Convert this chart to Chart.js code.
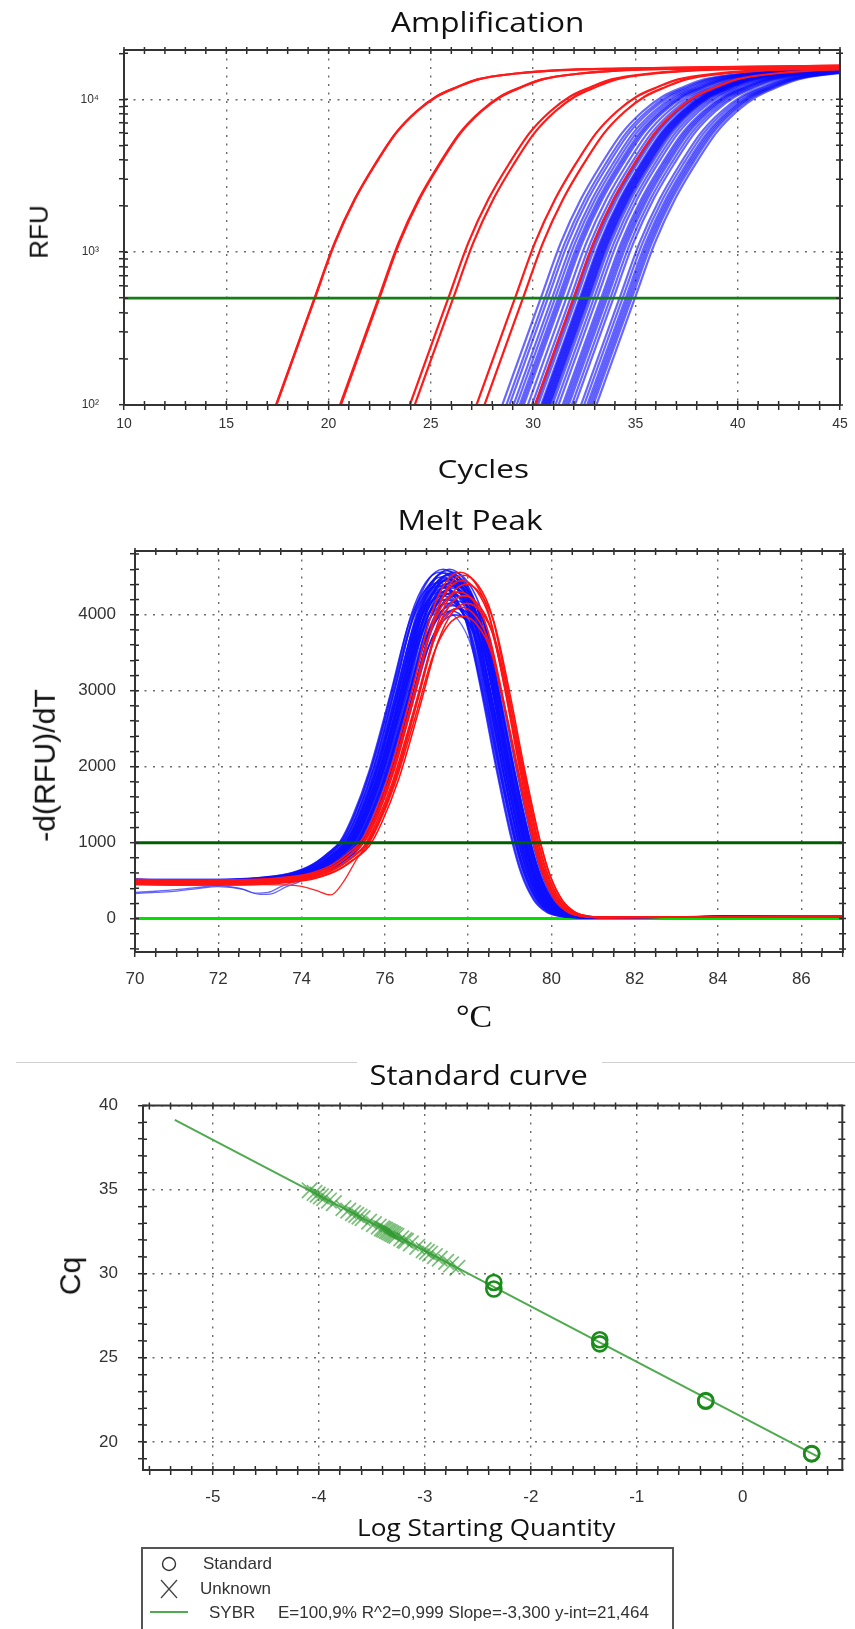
<!DOCTYPE html>
<html>
<head>
<meta charset="utf-8">
<script src="https://cdn.jsdelivr.net/npm/chart.js@4.4.1/dist/chart.umd.min.js"></script>
<style>
  html, body { margin:0; padding:0; background:#fff; }
  body { position:relative; width:855px; height:1629px; overflow:hidden; }
  canvas { position:absolute; left:0; }
  .lbl, .lt { position:absolute; white-space:nowrap; line-height:1; color:#111; }
  .lt { font-family:'Liberation Sans', Arial, sans-serif; font-size:17px; color:#333; }
  .sep { position:absolute; height:0; border-top:1px solid #cfcfcf; }
</style>
</head>
<body>
<canvas id="ampChart" width="855" height="450" style="top:0;width:855px;height:450px"></canvas>
<canvas id="meltChart" width="855" height="560" style="top:480px;width:855px;height:560px"></canvas>
<canvas id="stdChart" width="855" height="589" style="top:1040px;width:855px;height:589px"></canvas>

<div class="sep" style="left:16px;top:1062px;width:341px"></div>
<div class="sep" style="left:602px;top:1062px;width:253px"></div>

<div class="lbl" data-cx="487" data-cy="21" data-w="193" style="font-family:'Open Sans';font-size:28px">Amplification</div>
<div class="lbl" data-cx="483" data-cy="468" data-w="92" style="font-family:'Open Sans';font-size:25px">Cycles</div>
<div class="lbl" data-cx="38" data-cy="232" data-w="53" data-rot="1" style="font-family:'Liberation Sans';font-size:26px">RFU</div>

<div class="lbl" data-cx="470" data-cy="519" data-w="145" style="font-family:'Open Sans';font-size:28px">Melt Peak</div>
<div class="lbl" data-cx="45" data-cy="765" data-w="153" data-rot="1" style="font-family:'Liberation Sans';font-size:29px">-d(RFU)/dT</div>
<div class="lbl" data-cx="474" data-cy="1016" data-w="36" style="font-family:'Liberation Serif';font-size:32px">°C</div>

<div class="lbl" data-cx="478" data-cy="1074" data-w="218" style="font-family:'Open Sans';font-size:27px">Standard curve</div>
<div class="lbl" data-cx="70" data-cy="1276" data-w="38" data-rot="1" style="font-family:'Liberation Sans';font-size:30px">Cq</div>
<div class="lbl" data-cx="486" data-cy="1527" data-w="258" style="font-family:'Open Sans';font-size:24px">Log Starting Quantity</div>

<div style="position:absolute;left:141px;top:1547px;width:533px;height:110px;border:2px solid #555;box-sizing:border-box;"></div>
<svg style="position:absolute;left:0;top:1540px" width="855" height="89">
  <circle cx="169" cy="24" r="6.5" fill="none" stroke="#333" stroke-width="1.4"/>
  <line x1="161" y1="40" x2="177" y2="58" stroke="#444" stroke-width="1.3"/>
  <line x1="177" y1="40" x2="161" y2="58" stroke="#444" stroke-width="1.3"/>
  <line x1="150" y1="72" x2="188" y2="72" stroke="rgb(80,170,80)" stroke-width="2"/>
</svg>
<div class="lt" data-left="203" data-cy="1563">Standard</div>
<div class="lt" data-left="200" data-cy="1588">Unknown</div>
<div class="lt" data-left="209" data-cy="1612">SYBR</div>
<div class="lt" data-left="278" data-cy="1612">E=100,9% R^2=0,999 Slope=-3,300 y-int=21,464</div>

<script>
// ===================== DATA =====================
// --- Amplification ---
const ampThresholdRFU = 500;
const ampProfileCycleOffset = [-3, -2, -1, 0, 1, 2, 3, 4, 5, 6, 7, 8, 10, 12, 15, 20, 26];
const ampProfileRFU = [40, 89, 209, 490, 1150, 2240, 3800, 6030, 8320, 10470, 12020, 13490, 14790, 15490, 15850, 16220, 16600];
const standardCq = [19.29, 19.31, 22.42, 22.46, 25.83, 26.07, 29.09, 29.48];
const standardLogSQ = [0.651, 0.651, -0.349, -0.349, -1.349, -1.349, -2.349, -2.349];
const otherRedCq = [31.95];
const unknownCq = [34.95, 34.8, 34.7, 34.6, 34.5, 34.35, 34.2, 33.9, 33.75, 33.6, 33.5, 33.4, 33.3, 33.1,
  32.95, 32.8, 32.7, 32.65, 32.6, 32.55, 32.5, 32.45, 32.4, 32.35, 32.3, 32.25, 32.1, 32.0, 31.95,
  31.8, 31.6, 31.4, 31.3, 31.2, 31.05, 30.9, 30.7, 30.55, 30.35];
const unknownLogSQ = [-4.087, -4.041, -4.011, -3.981, -3.950, -3.905, -3.859, -3.768, -3.723, -3.678, -3.647, -3.617, -3.587, -3.526,
  -3.481, -3.435, -3.405, -3.390, -3.375, -3.359, -3.344, -3.329, -3.314, -3.299, -3.284, -3.268, -3.223, -3.193, -3.178,
  -3.132, -3.072, -3.011, -2.981, -2.950, -2.905, -2.859, -2.799, -2.753, -2.693];
const ampXTickLabels = [10, 15, 20, 25, 30, 35, 40, 45];
const ampYTickLabels = {100: '10²', 1000: '10³', 10000: '10⁴'};

// --- Melt peak ---
const meltThreshold = 1000;
const meltProfileOffset = [-8.2, -6.5, -5, -4, -3.5, -3, -2.6, -2.3, -2.0, -1.6, -1.1, -0.65, -0.3, 0.05, 0.4, 0.72, 1.1, 1.45, 1.82, 2.05, 2.35, 2.65, 2.95, 3.35, 5, 7, 10];
const meltProfileValue = [505, 495, 500, 540, 590, 700, 860, 1020, 1350, 1950, 2950, 3900, 4320, 4450, 4320, 3950, 3000, 2000, 1050, 600, 250, 90, 35, 15, 20, 25, 30];
const meltProfilePeak = 4450;
const meltBlueTm = [77.22, 77.25, 77.28, 77.3, 77.32, 77.34, 77.35, 77.37, 77.38, 77.4, 77.41, 77.42, 77.44, 77.45, 77.46, 77.47, 77.48, 77.49, 77.5, 77.51, 77.52, 77.53, 77.54, 77.55, 77.56, 77.57, 77.58, 77.6, 77.61, 77.62, 77.64, 77.65, 77.66, 77.68, 77.7, 77.72, 77.5];
const meltBluePeak = [4420, 4380, 4560, 4300, 4500, 4250, 4600, 4450, 4350, 4550, 4200, 4480, 4400, 4580, 4320, 4150, 4520, 4460, 4600, 4380, 4280, 4540, 4050, 4420, 4490, 4350, 4120, 4560, 4300, 4440, 4000, 4250, 4380, 4180, 4080, 4300, 4470];
const meltRedTm = [77.74, 77.76, 77.78, 77.8, 77.82, 77.84, 77.86, 77.9, 77.92];
const meltRedPeak = [4300, 4560, 4100, 4450, 3980, 4520, 4250, 4400, 4150];
const meltBlueDipA = [[70,345],[70.5,360],[71,380],[71.5,410],[72,435],[72.5,400],[72.9,335],[73.2,345],[73.5,420],[74,520],[74.5,660],[74.85,820],[75.15,963],[75.45,1274],[75.85,1840],[76.35,2785],[76.8,3680],[77.15,4088],[77.5,4200],[77.85,4088],[78.17,3729],[78.55,2832],[78.9,1888],[79.27,991],[79.5,566],[79.8,236],[80.1,85],[80.4,33],[80.8,14],[82,18],[84,22],[87,28]];
const meltBlueDipB = [[70,330],[70.5,345],[71,362],[71.5,395],[72,420],[72.6,385],[73.0,318],[73.3,330],[73.6,410],[74,500],[74.4,640],[74.75,780],[75.05,928],[75.35,1229],[75.75,1775],[76.25,2685],[76.7,3549],[77.05,3940],[77.4,4050],[77.75,3940],[78.07,3595],[78.45,2730],[78.8,1820],[79.17,956],[79.4,546],[79.7,228],[80.0,82],[80.3,32],[80.7,14],[82,18],[84,20],[87,26]];
const meltRedDip = [[70,455],[71,452],[72,450],[73,448],[73.6,445],[74,425],[74.35,370],[74.7,312],[75.0,480],[75.3,760],[75.55,974],[75.85,1289],[76.25,1862],[76.75,2817],[77.2,3725],[77.55,4125],[77.9,4250],[78.25,4125],[78.57,3772],[78.95,2865],[79.3,1910],[79.67,1003],[79.9,573],[80.2,239],[80.5,86],[80.8,33],[81.2,14],[82,18],[84,22],[87,28]];
const meltXTickLabels = [70, 72, 74, 76, 78, 80, 82, 84, 86];
const meltYTickLabels = [0, 1000, 2000, 3000, 4000];

// --- Standard curve ---
const fitLineLogSQ = [-5.36, 0.70];
const fitLineCq = [39.15, 19.15];
const stdXTickLabels = [-5, -4, -3, -2, -1, 0];
const stdYTickLabels = [20, 25, 30, 35, 40];

// ===================== HELPERS =====================
const TICK_FONT = "'Liberation Sans', Arial, sans-serif";
function seq(a, b, step) { const r = []; for (let v = a; v <= b + 1e-9; v += step) r.push(Math.round(v * 1e6) / 1e6); return r; }
function near(list, v) { return list.some(m => Math.abs(m - v) < 1e-6); }

function axis({pos, type, min, max, all, majors, label, size, fontSize, pad}) {
  return {
    type: type || 'linear', position: pos, min, max, bounds: 'data',
    afterBuildTicks: s => { s.ticks = all.map(v => ({value: v})); },
    afterFit: s => { if (pos === 'left') s.width = size; else s.height = size; },
    ticks: {
      autoSkip: false, maxRotation: 0, minRotation: 0, padding: pad, color: '#333',
      font: {family: TICK_FONT, size: fontSize},
      callback: (v) => near(majors, v) ? label(v) : ''
    },
    grid: {
      color: c => (c.tick && near(majors, c.tick.value)) ? '#6a6a6a' : 'rgba(0,0,0,0)',
      lineWidth: 1.4, drawTicks: true, tickLength: 5, tickWidth: 1.5, tickColor: '#2b2b2b'
    },
    border: {display: true, color: '#333', width: 2, dash: [2, 6.5]}
  };
}

const frameTicks = {
  id: 'frameTicks',
  afterDraw(chart) {
    const {ctx, chartArea: a, scales} = chart;
    ctx.save();
    ctx.strokeStyle = '#2b2b2b'; ctx.lineWidth = 1.5;
    ctx.beginPath();
    scales.x.ticks.forEach(t => {
      const p = scales.x.getPixelForValue(t.value);
      if (p < a.left - 0.5 || p > a.right + 0.5) return;
      ctx.moveTo(p, a.top - 3); ctx.lineTo(p, a.top + 4);
      ctx.moveTo(p, a.bottom); ctx.lineTo(p, a.bottom - 4);
    });
    scales.y.ticks.forEach(t => {
      const p = scales.y.getPixelForValue(t.value);
      if (p < a.top - 0.5 || p > a.bottom + 0.5) return;
      ctx.moveTo(a.left, p); ctx.lineTo(a.left + 4, p);
      ctx.moveTo(a.right - 4, p); ctx.lineTo(a.right + 3, p);
    });
    ctx.stroke();
    ctx.lineWidth = 2; ctx.strokeStyle = '#333';
    ctx.strokeRect(a.left, a.top, a.right - a.left, a.bottom - a.top);
    ctx.restore();
  }
};

const common = {
  responsive: false, animation: false, devicePixelRatio: 1, events: [],
  plugins: {legend: {display: false}, tooltip: {enabled: false}, title: {display: false}},
  elements: {point: {radius: 0}, line: {cubicInterpolationMode: 'monotone'}}
};

// ===================== AMPLIFICATION =====================
function ampCurve(cq, color, width) {
  return {
    data: ampProfileCycleOffset.map((o, i) => ({x: cq + o, y: ampProfileRFU[i]})),
    borderColor: color, borderWidth: width, pointRadius: 0
  };
}
const ampDatasets = [
  {data: [{x: 10, y: ampThresholdRFU}, {x: 45, y: ampThresholdRFU}], borderColor: 'rgb(20,125,20)', borderWidth: 2.6, pointRadius: 0}
];
standardCq.concat(otherRedCq).forEach(c => ampDatasets.push(ampCurve(c, 'rgb(255,25,25)', 2.2)));
unknownCq.forEach(c => ampDatasets.push(ampCurve(c, 'rgba(10,10,255,0.62)', 2.2)));

const ampYAll = seq(100, 900, 100).concat(seq(1000, 9000, 1000), [10000, 20000]);
new Chart(document.getElementById('ampChart'), {
  type: 'line',
  data: {datasets: ampDatasets},
  options: Object.assign({}, common, {
    layout: {padding: {left: 0, top: 50, right: 15, bottom: 5}},
    scales: {
      x: axis({pos: 'bottom', min: 10, max: 45, all: seq(10, 45, 1), majors: ampXTickLabels, label: v => String(v), size: 40, fontSize: 14, pad: 6}),
      y: axis({pos: 'left', type: 'logarithmic', min: 100, max: 21000, all: ampYAll, majors: [100, 1000, 10000], label: v => ampYTickLabels[v] || '', size: 124, fontSize: 12, pad: 20})
    }
  }),
  plugins: [frameTicks]
});

// ===================== MELT PEAK =====================
function meltCurve(tm, peak, color, width) {
  const k = peak / meltProfilePeak;
  return {
    data: meltProfileOffset.map((o, i) => ({x: tm + o, y: meltProfileValue[i] * k})),
    borderColor: color, borderWidth: width, pointRadius: 0
  };
}
function meltExplicit(pts, color, width) {
  return {data: pts.map(p => ({x: p[0], y: p[1]})), borderColor: color, borderWidth: width, pointRadius: 0};
}
const meltDatasets = [
  {data: [{x: 70, y: meltThreshold}, {x: 87, y: meltThreshold}], borderColor: 'rgb(0,95,0)', borderWidth: 3, pointRadius: 0}
];
meltRedTm.forEach((t, i) => meltDatasets.push(meltCurve(t, meltRedPeak[i], 'rgb(255,20,20)', 1.6)));
meltDatasets.push(meltExplicit(meltRedDip, 'rgb(255,40,40)', 1.3));
meltBlueTm.forEach((t, i) => meltDatasets.push(meltCurve(t, meltBluePeak[i], 'rgba(15,15,255,0.8)', 1.7)));
meltDatasets.push(meltExplicit(meltBlueDipA, 'rgba(40,40,255,0.7)', 1.3));
meltDatasets.push(meltExplicit(meltBlueDipB, 'rgba(40,40,255,0.7)', 1.3));
meltDatasets.push({data: [{x: 70, y: 0}, {x: 87, y: 0}], borderColor: 'rgb(0,225,0)', borderWidth: 3, pointRadius: 0});

new Chart(document.getElementById('meltChart'), {
  type: 'line',
  data: {datasets: meltDatasets},
  options: Object.assign({}, common, {
    layout: {padding: {left: 0, top: 71, right: 7, bottom: 38}},
    scales: {
      x: axis({pos: 'bottom', min: 70, max: 87, all: seq(70, 87, 0.5), majors: meltXTickLabels, label: v => String(v), size: 50, fontSize: 17, pad: 12}),
      y: axis({pos: 'left', min: -440, max: 4840, all: seq(-400, 4800, 200), majors: meltYTickLabels, label: v => String(v), size: 135, fontSize: 17, pad: 14})
    }
  }),
  plugins: [frameTicks]
});

// ===================== STANDARD CURVE =====================
new Chart(document.getElementById('stdChart'), {
  type: 'scatter',
  data: {datasets: [
    {data: standardLogSQ.map((x, i) => ({x, y: standardCq[i]})), pointStyle: 'circle', pointRadius: 7.5,
     backgroundColor: 'rgba(0,0,0,0)', borderColor: 'rgb(25,140,25)', borderWidth: 2.6},
    {data: unknownLogSQ.map((x, i) => ({x, y: unknownCq[i]})), pointStyle: 'crossRot', pointRadius: 11,
     backgroundColor: 'rgba(0,0,0,0)', borderColor: 'rgba(50,155,50,0.65)', borderWidth: 1.7},
    {data: fitLineLogSQ.map((x, i) => ({x, y: fitLineCq[i]})), showLine: true, pointRadius: 0,
     borderColor: 'rgb(80,170,80)', borderWidth: 2}
  ]},
  options: Object.assign({}, common, {
    layout: {padding: {left: 0, top: 65.5, right: 2, bottom: 109}},
    scales: {
      x: axis({pos: 'bottom', min: -5.66, max: 0.94, all: seq(-5.6, 0.8, 0.2), majors: stdXTickLabels, label: v => String(v), size: 50, fontSize: 17, pad: 12}),
      y: axis({pos: 'left', min: 18.33, max: 40, all: seq(19, 40, 1), majors: stdYTickLabels, label: v => String(v), size: 143, fontSize: 17, pad: 20})
    }
  }),
  plugins: [frameTicks]
});

// ===================== TEXT PLACEMENT =====================
document.querySelectorAll('.lbl').forEach(el => {
  const cx = +el.dataset.cx, cy = +el.dataset.cy, w = +el.dataset.w, rot = el.dataset.rot === '1';
  const bw = el.offsetWidth, bh = el.offsetHeight;
  el.style.left = (cx - bw / 2) + 'px';
  el.style.top = (cy - bh / 2) + 'px';
  const k = w ? w / bw : 1;
  el.style.transform = (rot ? 'rotate(-90deg) ' : '') + 'scaleX(' + k.toFixed(3) + ')';
});
document.querySelectorAll('.lt').forEach(el => {
  el.style.left = el.dataset.left + 'px';
  el.style.top = (+el.dataset.cy - el.offsetHeight / 2) + 'px';
});
</script>
</body>
</html>
